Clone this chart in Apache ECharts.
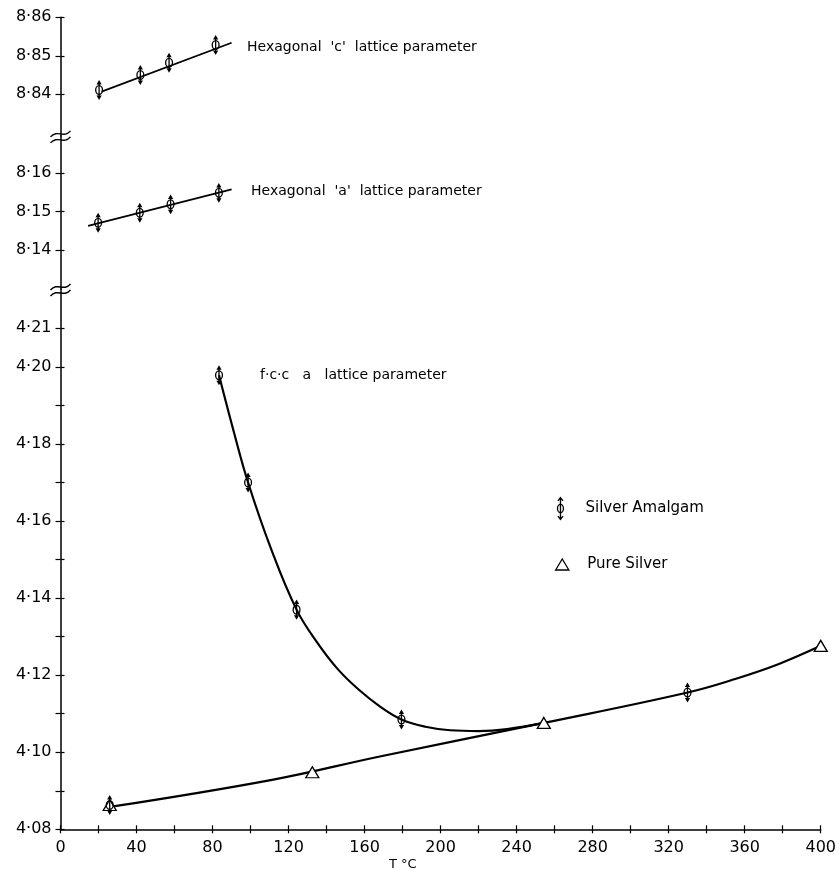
<!DOCTYPE html>
<html><head><meta charset="utf-8">
<script src="https://cdn.jsdelivr.net/npm/echarts@6/dist/echarts.min.js"></script>
<style>html,body{margin:0;padding:0;background:#fff}#c{width:839px;height:871px}</style>
</head><body><div id="c"></div>
<script>
const FONT = 'DejaVu Sans';

// Hexagonal 'c' lattice parameter (silver amalgam)
const cPoints = [[20.3, 8.8411], [42.0, 8.8450], [57.1, 8.8482], [81.6, 8.8528]];
const cErr = [0.0026, 0.0026, 0.0026, 0.0026];
const cFit = [[21.6, 8.8407], [90, 8.8534]];

// Hexagonal 'a' lattice parameter (silver amalgam)
const aPoints = [[19.8, 8.1471], [41.7, 8.1497], [57.9, 8.1519], [83.3, 8.1549]];
const aErr = [0.0026, 0.0026, 0.0026, 0.0026];
const aFit = [[14.5, 8.1463], [90, 8.1558]];

// f.c.c. a lattice parameter
const fccPoints = [[25.9, 4.0863], [83.4, 4.1978], [98.7, 4.1700], [124.2, 4.1370], [179.4, 4.1085], [329.9, 4.1155]];
const fccErr = [0.0026, 0.0026, 0.0026, 0.0026, 0.0026, 0.0026];
const amalgamCurve = [[83.4, 4.1978], [91, 4.1835], [98.7, 4.1700], [111, 4.1525], [124.2, 4.1370], [135, 4.1285],
  [146, 4.1215], [157, 4.1162], [168, 4.1119], [179.4, 4.1085], [192, 4.1066], [205, 4.1057], [220, 4.1055],
  [235, 4.1060], [254.3, 4.1076]];
const pureSilver = [[25.9, 4.0863], [132.5, 4.0948], [254.3, 4.1076], [400, 4.1276]];
const pureCurve = [[26, 4.0858], [112, 4.0929], [168, 4.0989], [254.3, 4.1076], [330, 4.1155], [355, 4.1190],
  [378, 4.1229], [400, 4.1276]];

// axis ticks and labels
const xTicks = [0, 20, 40, 60, 80, 100, 120, 140, 160, 180, 200, 220, 240, 260, 280, 300, 320, 340, 360, 380, 400];
const xLabels = [0, 40, 80, 120, 160, 200, 240, 280, 320, 360, 400];
const yTicksC = [8.84, 8.85, 8.86];
const yTicksA = [8.14, 8.15, 8.16];
const yTicksF = [4.08, 4.09, 4.10, 4.11, 4.12, 4.13, 4.14, 4.15, 4.16, 4.17, 4.18, 4.19, 4.20, 4.21];
const yLabelsF = [4.08, 4.10, 4.12, 4.14, 4.16, 4.18, 4.20, 4.21];

const LEFT = 60.5, RIGHT = 18;
const grids = [
  {left: LEFT, right: RIGHT, top: 17.3, height: 118.6},
  {left: LEFT, right: RIGHT, top: 135.9, height: 153.1},
  {left: LEFT, right: RIGHT, top: 289, height: 540.3}
];
const yRanges = [[8.8292, 8.86], [8.12983, 8.16975], [4.08, 4.2202]];

const fmt = v => v.toFixed(2).replace('.', '\u00b7');
const lineBlack = {color: '#000', width: 1.5};

function xAxisHidden(g) { return {gridIndex: g, type: 'value', min: 0, max: 400, show: false}; }
function yMain(g, ticks, labels) {
  return {
    gridIndex: g, type: 'value', position: 'left', min: yRanges[g][0], max: yRanges[g][1],
    axisLine: {show: true, onZero: false, lineStyle: lineBlack},
    axisTick: {show: true, customValues: ticks, length: 5, lineStyle: {color: '#000', width: 1.2}},
    axisLabel: {show: true, customValues: labels, formatter: fmt, margin: 9, fontSize: 16, fontFamily: FONT, color: '#000'},
    splitLine: {show: false}
  };
}
function yInner(g, ticks) {
  return {
    gridIndex: g, type: 'value', position: 'left', offset: 0, min: yRanges[g][0], max: yRanges[g][1],
    axisLine: {show: false, onZero: false},
    axisTick: {show: true, inside: true, customValues: ticks, length: 4, lineStyle: {color: '#000', width: 1.2}},
    axisLabel: {show: false}, splitLine: {show: false}
  };
}

function amalgamItem(params, api) {
  const x = api.value(0), y = api.value(1), e = api.value(2);
  const c = api.coord([x, y]);
  const t = api.coord([x, y + e]);
  const b = api.coord([x, y - e]);
  return {
    type: 'group', children: [
      {type: 'line', shape: {x1: c[0], y1: t[1] + 2, x2: c[0], y2: b[1] - 2}, style: {stroke: '#000', lineWidth: 1.3}},
      {type: 'ellipse', shape: {cx: c[0], cy: c[1], rx: 3.4, ry: 4.4}, style: {stroke: '#000', lineWidth: 1.3, fill: 'none'}},
      {type: 'polygon', shape: {points: [[c[0], t[1]], [c[0] - 2.6, t[1] + 4.5], [c[0] + 2.6, t[1] + 4.5]]}, style: {fill: '#000'}},
      {type: 'polygon', shape: {points: [[c[0], b[1]], [c[0] - 2.6, b[1] - 4.5], [c[0] + 2.6, b[1] - 4.5]]}, style: {fill: '#000'}}
    ]
  };
}
function withErr(pts, err) { return pts.map((p, i) => [p[0], p[1], err[i]]); }
function amalgamSeries(g, pts, err) {
  return {
    name: 'Silver Amalgam', type: 'custom', xAxisIndex: g, yAxisIndex: g,
    renderItem: amalgamItem, data: withErr(pts, err), encode: {x: 0, y: 1},
    itemStyle: {color: '#000'}, z: 5, silent: true
  };
}
function fitLine(name, g, data, w, smooth) {
  return {
    name: name, type: 'line', xAxisIndex: g, yAxisIndex: g, data: data, symbol: 'none',
    smooth: smooth || false, lineStyle: {color: '#000', width: w}, z: 2, silent: true
  };
}

function breakMark(y) {
  return {
    type: 'group', x: LEFT, y: y, z: 100, children: [
      {type: 'rect', shape: {x: -2.5, y: -1.5, width: 5, height: 6}, style: {fill: '#fff'}},
      {type: 'bezierCurve', shape: {x1: -10, y1: 1, cpx1: -3, cpy1: -7, cpx2: 3, cpy2: 3, x2: 10, y2: -5}, style: {stroke: '#000', lineWidth: 1.4, fill: 'none'}},
      {type: 'bezierCurve', shape: {x1: -10, y1: 7, cpx1: -3, cpy1: -1, cpx2: 3, cpy2: 9, x2: 10, y2: 1}, style: {stroke: '#000', lineWidth: 1.4, fill: 'none'}}
    ]
  };
}
function note(x, y, text) {
  return {type: 'text', x: x, y: y, z: 50, style: {text: text, fontSize: 14, fontFamily: FONT, fill: '#000', verticalAlign: 'middle'}};
}

const chart = echarts.init(document.getElementById('c'), null, {renderer: 'canvas'});
chart.setOption({
  backgroundColor: '#fff',
  animation: false,
  title: {text: 'T \u00b0C', left: 389, top: 858, padding: 0, textStyle: {fontSize: 13, fontWeight: 'normal', fontFamily: FONT, color: '#000'}},
  grid: grids,
  legend: [
    {
      left: 550, top: 490, padding: 5, orient: 'vertical', itemWidth: 40, itemHeight: 22, selectedMode: false,
      textStyle: {fontSize: 15, fontFamily: FONT, color: '#000'},
      data: [{name: 'Silver Amalgam', icon: 'path://M5 0L5 26M2 4L5 0L8 4M2 22L5 26L8 22M5 8A3.5 5 0 1 1 5 18A3.5 5 0 1 1 5 8',
        itemStyle: {color: 'none', borderColor: '#000', borderWidth: 1.3}}]
    },
    {
      left: 550, top: 552, padding: 5, orient: 'vertical', itemWidth: 40, itemHeight: 11, selectedMode: false,
      textStyle: {fontSize: 15, fontFamily: FONT, color: '#000'},
      data: [{name: 'Pure Silver', icon: 'path://M6 0L12 10L0 10Z', itemStyle: {color: '#fff', borderColor: '#000', borderWidth: 1.3}}]
    }
  ],
  xAxis: [
    xAxisHidden(0), xAxisHidden(1),
    {
      gridIndex: 2, type: 'value', position: 'bottom', min: 0, max: 400,
      axisLine: {show: true, onZero: false, lineStyle: lineBlack},
      axisTick: {show: true, customValues: xTicks, length: 4, lineStyle: {color: '#000', width: 1.2}},
      axisLabel: {show: true, customValues: xLabels, margin: 11, fontSize: 16, fontFamily: FONT, color: '#000'},
      splitLine: {show: false}
    },
    {
      gridIndex: 2, type: 'value', position: 'bottom', offset: 0, min: 0, max: 400,
      axisLine: {show: false, onZero: false},
      axisTick: {show: true, inside: true, customValues: xTicks, length: 4, lineStyle: {color: '#000', width: 1.2}},
      axisLabel: {show: false}, splitLine: {show: false}
    }
  ],
  yAxis: [
    yMain(0, yTicksC, yTicksC), yMain(1, yTicksA, yTicksA), yMain(2, yTicksF, yLabelsF),
    yInner(0, yTicksC), yInner(1, yTicksA), yInner(2, yTicksF)
  ],
  series: [
    fitLine('c fit', 0, cFit, 1.7),
    amalgamSeries(0, cPoints, cErr),
    fitLine('a fit', 1, aFit, 1.7),
    amalgamSeries(1, aPoints, aErr),
    fitLine('Pure Silver curve', 2, pureCurve, 2.2, 0.4),
    fitLine('Amalgam curve', 2, amalgamCurve, 2.2, 0.4),
    {
      name: 'Pure Silver', type: 'scatter', xAxisIndex: 2, yAxisIndex: 2, data: pureSilver,
      symbol: 'triangle', symbolSize: [13, 11],
      itemStyle: {color: '#fff', borderColor: '#000', borderWidth: 1.3, opacity: 1}, z: 4, silent: true
    },
    amalgamSeries(2, fccPoints, fccErr)
  ],
  graphic: [
    breakMark(135.9), breakMark(289),
    note(247, 47, "Hexagonal  'c'  lattice parameter"),
    note(251, 191, "Hexagonal  'a'  lattice parameter"),
    note(260, 375, 'f\u00b7c\u00b7c   a   lattice parameter')
  ]
});
</script>
</body></html>
